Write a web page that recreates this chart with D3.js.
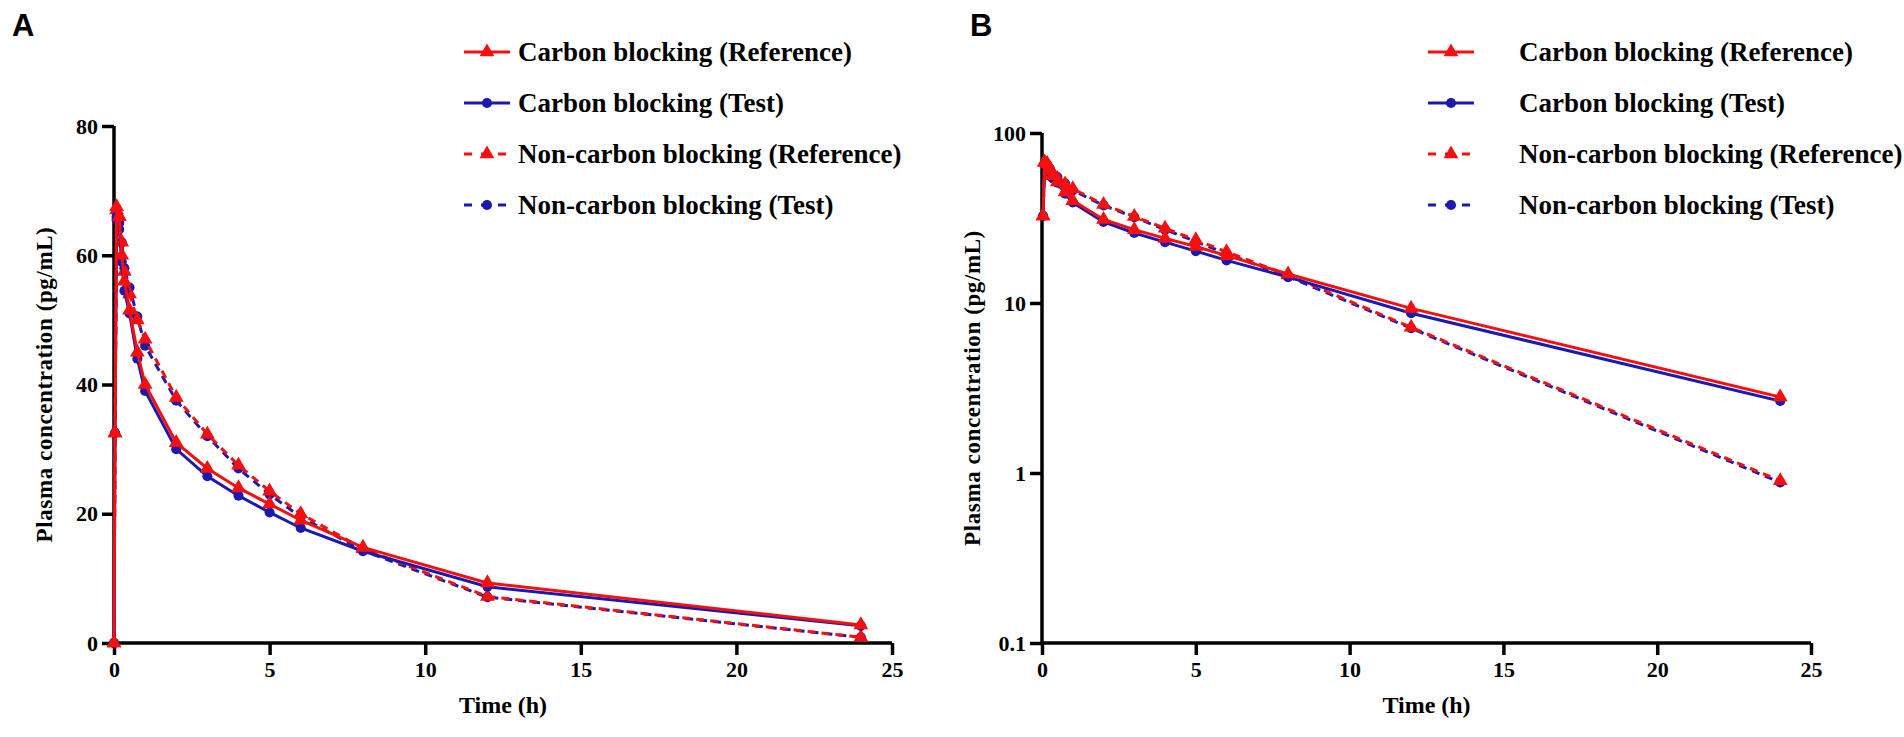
<!DOCTYPE html>
<html>
<head>
<meta charset="utf-8">
<script src="https://cdn.jsdelivr.net/npm/d3@7"></script>
<style>
  body { margin: 0; background: #fff; }
  text { font-family: "Liberation Serif", "Times New Roman", serif; font-weight: bold; fill: #000; }
</style>
</head>
<body>
<div id="chart"></div>
<script>
const width = 1904;
const height = 737;

// sampling times (h)
var times = [0, 0.033, 0.083, 0.167, 0.25, 0.333, 0.5, 0.75, 1, 2, 3, 4, 5, 6, 8, 12, 24];

// mean plasma concentration (pg/mL)
var carbonRef = [0, 32.5, 67.5, 66, 60, 56, 51.5, 45, 40, 31, 27, 24, 21.5, 19, 14.8, 9.3, 2.8];
var carbonTest = [0, 32.5, 66, 64, 59, 54.5, 51, 44, 39, 30, 25.8, 22.8, 20.2, 17.8, 14.2, 8.7, 2.65];
var nonCarbonRef = [0, 32.5, 67, 66, 62, 57.5, 54, 50, 47, 38, 32.3, 27.5, 23.5, 20, 14.6, 7.2, 0.9];
var nonCarbonTest = [0, 32.5, 65.5, 65, 62, 58, 55, 50.5, 46, 37.5, 32, 27, 23, 19.5, 14.3, 7.1, 0.88];

var seriesNames = ["Carbon blocking (Reference)", "Carbon blocking (Test)",
                   "Non-carbon blocking (Reference)", "Non-carbon blocking (Test)"];

var xTicks = [0, 5, 10, 15, 20, 25];
var yTicksLinear = [0, 20, 40, 60, 80];
var yTicksLog = [0.1, 1, 10, 100];

const red = "#f50f0f";
const blue = "#1a1ab0";

var series = [
  {name: seriesNames[0], values: carbonRef, color: red, dashed: false, shape: "tri"},
  {name: seriesNames[1], values: carbonTest, color: blue, dashed: false, shape: "circ"},
  {name: seriesNames[2], values: nonCarbonRef, color: red, dashed: true, shape: "tri"},
  {name: seriesNames[3], values: nonCarbonTest, color: blue, dashed: true, shape: "circ"}
];
// draw order: test lines under reference lines
var drawOrder = [series[3], series[2], series[1], series[0]];

var svg = d3.select("#chart").append("svg")
  .attr("width", width).attr("height", height);

function symbolFor(s) {
  var sym = s.shape === "tri" ? d3.symbolTriangle : d3.symbolCircle;
  return d3.symbol().type(sym).size(s.shape === "tri" ? 95 : 80);
}

function drawPanel(opts) {
  var x = d3.scaleLinear().domain([0, 25]).range([opts.left, opts.right]);
  var y = opts.log
    ? d3.scaleLog().domain([0.1, 100]).range([opts.bottom, opts.top])
    : d3.scaleLinear().domain([0, 80]).range([opts.bottom, opts.top]);

  var g = svg.append("g");

  // axes
  var xAxis = g.append("g")
    .attr("transform", `translate(0,${opts.bottom})`)
    .call(d3.axisBottom(x).tickValues(xTicks).tickSize(12).tickPadding(6).tickFormat(d3.format("d")));
  var yAxis = g.append("g")
    .attr("transform", `translate(${opts.left},0)`)
    .call(d3.axisLeft(y).tickValues(opts.log ? yTicksLog : yTicksLinear).tickSize(12).tickPadding(4)
      .tickFormat(d => String(d)));

  [xAxis, yAxis].forEach(a => {
    a.select(".domain").attr("stroke", "#000").attr("stroke-width", 3.5);
    a.selectAll(".tick line").attr("stroke", "#000").attr("stroke-width", 3.5);
    a.selectAll(".tick text").style("font-size", "22px").attr("fill", "#000");
  });
  xAxis.select(".domain").attr("d", `M${opts.left},0H${opts.right}`);
  yAxis.select(".domain").attr("d", `M0,${opts.bottom}V${opts.top}`);

  // titles
  g.append("text")
    .attr("x", (opts.left + opts.right) / 2).attr("y", opts.bottom + 70)
    .attr("text-anchor", "middle").style("font-size", "24px")
    .text("Time (h)");
  g.append("text")
    .attr("transform", `translate(${opts.left - 62},${(opts.top + opts.bottom) / 2}) rotate(-90)`)
    .attr("text-anchor", "middle").style("font-size", "23px")
    .style("letter-spacing", "0.6px")
    .text("Plasma concentration (pg/mL)");

  // panel letter
  g.append("text")
    .attr("x", opts.letterX).attr("y", 36)
    .style("font-family", "'Liberation Sans', Arial, sans-serif")
    .style("font-size", "31px")
    .text(opts.letter);

  // data
  drawOrder.forEach(s => {
    var pts = times.map((t, i) => ({t: t, v: s.values[i]}))
      .filter(p => !opts.log || p.v > 0);
    var line = d3.line().x(p => x(p.t)).y(p => y(p.v));
    g.append("path")
      .datum(pts)
      .attr("fill", "none")
      .attr("stroke", s.color)
      .attr("stroke-width", 3)
      .attr("stroke-dasharray", s.dashed ? "8,6" : null)
      .attr("d", line);
    g.selectAll(null).data(pts).enter().append("path")
      .attr("transform", p => `translate(${x(p.t)},${y(p.v)})`)
      .attr("d", symbolFor(s))
      .attr("fill", s.color);
  });

  // legend
  var lg = g.append("g");
  series.forEach((s, i) => {
    var cy = opts.legendTop + i * 51;
    lg.append("line")
      .attr("x1", opts.legendX).attr("x2", opts.legendX + 46)
      .attr("y1", cy).attr("y2", cy)
      .attr("stroke", s.color).attr("stroke-width", 3)
      .attr("stroke-dasharray", s.dashed ? "8,9" : null);
    lg.append("path")
      .attr("transform", `translate(${opts.legendX + 23},${cy})`)
      .attr("d", symbolFor(s))
      .attr("fill", s.color);
    lg.append("text")
      .attr("x", opts.textX).attr("y", cy + 9)
      .style("font-size", "27px")
      .text(s.name);
  });
}

drawPanel({left: 114, right: 892, top: 126, bottom: 643, log: false,
  letter: "A", letterX: 12, legendX: 464, textX: 518, legendTop: 52});
drawPanel({left: 1042, right: 1811, top: 133, bottom: 643, log: true,
  letter: "B", letterX: 970, legendX: 1428, textX: 1519, legendTop: 52});
</script>
</body>
</html>
